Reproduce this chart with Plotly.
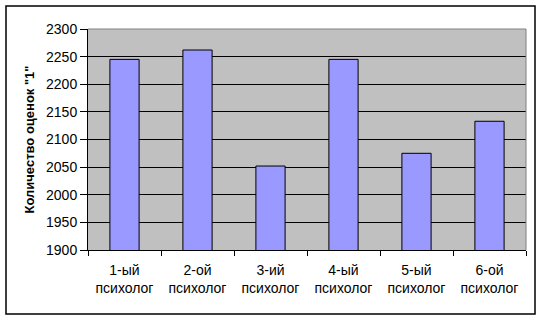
import plotly.graph_objects as go

categories = ["1-ый<br>психолог", "2-ой<br>психолог", "3-ий<br>психолог",
              "4-ый<br>психолог", "5-ый<br>психолог", "6-ой<br>психолог"]
values = [2245, 2262, 2052, 2245, 2075, 2133]
y_ticks = list(range(1900, 2301, 50))
y_title = 'Количество оценок "1"'

L, R, T, B = 88, 17, 29, 70
W, H = 543, 320
pw, ph = W - L - R, H - T - B

fig = go.Figure(go.Bar(
    x=categories, y=values,
    marker=dict(color="#9999FF", line=dict(color="black", width=1)),
    width=0.4,
))

font = dict(family="Liberation Sans, Arial", size=14, color="black")
fig.update_layout(
    width=W, height=H,
    margin=dict(l=L, r=R, t=T, b=B, autoexpand=False),
    paper_bgcolor="white", plot_bgcolor="#C0C0C0",
    font=font, showlegend=False,
    bargap=0.6,
    xaxis=dict(showline=True, linecolor="black", linewidth=1,
               ticks="outside", tickson="boundaries", ticklen=5, tickcolor="black",
               showgrid=False, tickfont=font, fixedrange=True, ticklabelstandoff=7),
    yaxis=dict(range=[1900, 2300], tickvals=y_ticks, showline=True, linecolor="black",
               linewidth=1, ticks="outside", ticklen=7, tickcolor="black",
               showgrid=True, gridcolor="black", gridwidth=1, zeroline=False,
               tickfont=font,
               title=dict(text=y_title, font=dict(family="Liberation Sans, Arial", size=13,
                                                  color="black", weight="bold"), standoff=8)),
)

# gray top/right edges of plot area
fig.add_shape(type="line", xref="paper", yref="paper", x0=0, x1=1, y0=1, y1=1,
              line=dict(color="#808080", width=1), layer="above")
fig.add_shape(type="line", xref="paper", yref="paper", x0=1, x1=1, y0=0, y1=1,
              line=dict(color="#808080", width=1), layer="above")
# outer chart border
fig.add_shape(type="rect", xref="paper", yref="paper",
              x0=(6 - L) / pw, x1=(535 - L) / pw,
              y0=(H - B - 314) / ph, y1=(H - B - 6) / ph,
              line=dict(color="black", width=1.5), layer="above")

fig.write_html("out.html")
